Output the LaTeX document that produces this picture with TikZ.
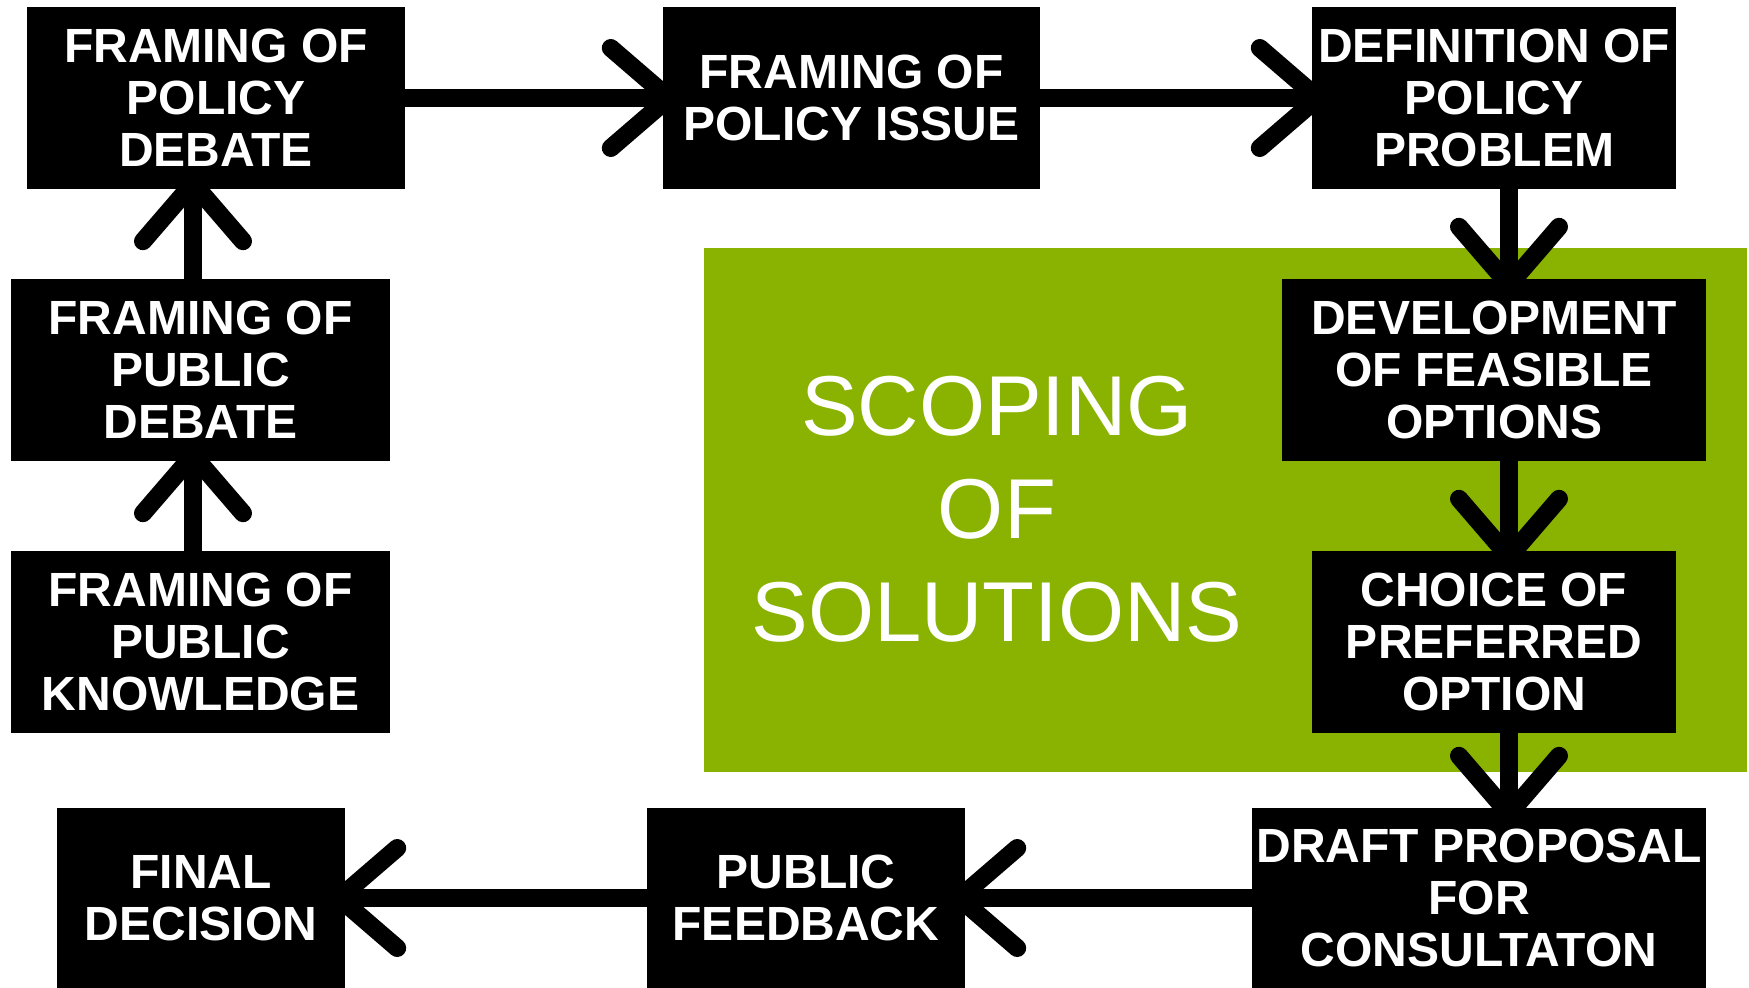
\documentclass[tikz,border=0pt]{standalone}
\usepackage{fontspec}
\setmainfont{Liberation Sans}
\usetikzlibrary{arrows.meta}
\pgfdeclarelayer{back}
\pgfdeclarelayer{mid}
\pgfsetlayers{back,mid,main}
\definecolor{scopegreen}{HTML}{89B300}
\tikzset{
  stepbox/.style={fill=black, text=white, inner sep=0pt, align=center,
    font=\fontsize{48pt}{52pt}\selectfont\bfseries, minimum height=182pt},
  conn/.style={line width=18pt, draw=black,
    -{Straight Barb[length=58pt,width=100pt,round]}, shorten >=-15pt}
}
\begin{document}
\begin{tikzpicture}[x=1pt,y=-1pt]
\useasboundingbox (0,0) rectangle (1749,988);
\node[stepbox, minimum width=378pt] (FPD) at (216,98) {FRAMING OF\\POLICY\\DEBATE};
\node[stepbox, minimum width=377pt] (FPI) at (851.5,98) {FRAMING OF\\POLICY ISSUE};
\node[stepbox, minimum width=364pt] (DPP) at (1494,98) {DEFINITION OF\\POLICY\\PROBLEM};
\node[stepbox, minimum width=379pt] (FPubD) at (200.5,370) {FRAMING OF\\PUBLIC\\DEBATE};
\node[stepbox, minimum width=379pt] (FPK) at (200.5,642) {FRAMING OF\\PUBLIC\\KNOWLEDGE};
\node[stepbox, minimum width=424pt] (DFO) at (1494,370) {DEVELOPMENT\\OF FEASIBLE\\OPTIONS};
\node[stepbox, minimum width=364pt] (CPO) at (1494,642) {CHOICE OF\\PREFERRED\\OPTION};
\node[stepbox, minimum width=288pt, minimum height=180pt] (FD) at (201,898) {FINAL\\DECISION};
\node[stepbox, minimum width=318pt, minimum height=180pt] (PF) at (806,898) {PUBLIC\\FEEDBACK};
\node[stepbox, minimum width=454pt, minimum height=180pt] (DP) at (1479,898) {DRAFT PROPOSAL\\FOR\\CONSULTATON};
\node[text=white, align=center, inner sep=0pt,
  font=\fontsize{85pt}{103pt}\selectfont] (scope) at (997,509) {SCOPING\\OF\\SOLUTIONS};
\begin{pgfonlayer}{back}
\fill[scopegreen] (704,248) rectangle (1747,772);
\end{pgfonlayer}
\begin{pgfonlayer}{mid}
\draw[conn] (FPD.east) -- (FPI.west);
\draw[conn] (FPI.east) -- (DPP.west);
\draw[conn] ([xshift=15pt]DPP.south) -- ([xshift=15pt]DFO.north);
\draw[conn] ([xshift=15pt]DFO.south) -- ([xshift=15pt]CPO.north);
\draw[conn] ([xshift=15pt]CPO.south) -- ([xshift=30pt]DP.north);
\draw[conn] (DP.west) -- (PF.east);
\draw[conn] (PF.west) -- (FD.east);
\draw[conn] ([xshift=-7.5pt]FPK.north) -- ([xshift=-7.5pt]FPubD.south);
\draw[conn] ([xshift=-7.5pt]FPubD.north) -- ([xshift=-23pt]FPD.south);
\end{pgfonlayer}
\end{tikzpicture}
\end{document}
